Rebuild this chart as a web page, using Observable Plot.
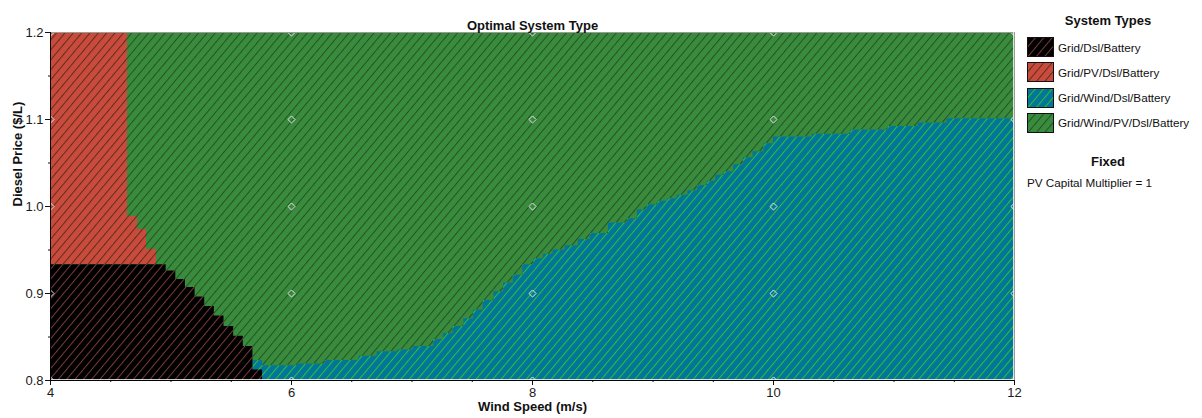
<!DOCTYPE html>
<html>
<head>
<meta charset="utf-8">
<script src="https://cdn.jsdelivr.net/npm/d3@7"></script>
<script src="https://cdn.jsdelivr.net/npm/@observablehq/plot@0.6"></script>
<style>
  body { margin: 0; background: #fff; font-family: "Liberation Sans", Arial, sans-serif; color: #111; }
  #wrap { position: relative; width: 1202px; height: 418px; }
  #wrap > svg.plot { position: absolute; left: 0; top: 0; }
  .lg-head { position: absolute; left: 1027px; width: 162px; text-align: center; font-weight: bold; font-size: 13px; line-height: 15px; }
  .lg-row { position: absolute; left: 1027px; height: 20px; display: flex; align-items: center; font-size: 11.7px; white-space: nowrap; }
  .lg-row svg { display: block; margin-right: 4px; }
  .lg-note { position: absolute; left: 1027px; font-size: 11.7px; line-height: 14px; white-space: nowrap; }
</style>
</head>
<body>
<div id="wrap"></div>
<script>
// Axis extents and ticks
const windDomain = [4, 12];
const priceDomain = [0.8, 1.2];
const windTicks = [4, 6, 8, 10, 12];
const windMinorTicks = [4.5, 5, 5.5, 6.5, 7, 7.5, 8.5, 9, 9.5, 10.5, 11, 11.5];
const priceTicks = [0.8, 0.9, 1.0, 1.1, 1.2];
const priceMinorTicks = [0.85, 0.95, 1.05, 1.15];

// Simulated sensitivity points (diamonds)
const simWind = [4, 6, 8, 10, 12];
const simPrice = [0.8, 0.9, 1.0, 1.1, 1.2];

// System types, in legend order
const systemTypes = ["Grid/Dsl/Battery", "Grid/PV/Dsl/Battery", "Grid/Wind/Dsl/Battery", "Grid/Wind/PV/Dsl/Battery"];
const fillColors = ["#000000", "#c94b3b", "#04759a", "#3a8c3d"];
const hatchColors = ["#7a3c3a", "#5e2c24", "#2bc52c", "#25502a"];

// Grid/Dsl/Battery: upper boundary (diesel price) starting at each wind speed
const dslWind  = [4.00, 4.96, 5.04, 5.12, 5.20, 5.28, 5.36, 5.44, 5.52, 5.60, 5.68, 5.76];
const dslPrice = [0.933, 0.926, 0.916, 0.907, 0.896, 0.885, 0.874, 0.862, 0.851, 0.839, 0.812, 0.812];

// Grid/PV/Dsl/Battery: right boundary (wind speed) of each diesel price band
const pvBandPrice = [0.933, 0.951, 0.973, 0.988, 1.2];
const pvBandWind  = [4.88, 4.80, 4.72, 4.64];

// Grid/Wind/Dsl/Battery: upper boundary (diesel price) starting at each wind speed
const windSysWind = [5.68, 5.76, 6.05, 6.28, 6.56, 6.71, 6.88, 7.01, 7.18, 7.26, 7.34, 7.43, 7.51, 7.59, 7.68, 7.76,
  7.84, 7.92, 8.01, 8.09, 8.17, 8.27, 8.38, 8.48, 8.63, 8.79, 8.87, 8.95, 9.04, 9.12, 9.20, 9.29, 9.37, 9.45, 9.52,
  9.59, 9.67, 9.75, 9.83, 9.92, 10.00, 10.32, 10.64, 10.95, 11.20, 11.44, 12];
const windSysPrice = [0.823, 0.817, 0.819, 0.823, 0.828, 0.833, 0.835, 0.839, 0.847, 0.854, 0.862, 0.871, 0.881, 0.892,
  0.902, 0.912, 0.921, 0.933, 0.940, 0.945, 0.950, 0.955, 0.962, 0.969, 0.981, 0.986, 0.996, 1.002, 1.006, 1.009,
  1.013, 1.018, 1.024, 1.029, 1.036, 1.040, 1.048, 1.056, 1.063, 1.072, 1.080, 1.083, 1.088, 1.092, 1.096, 1.101, 1.101];

// Hatched fills, one pattern per system type
const defsSvg = d3.select("body").append("svg")
  .attr("width", 0).attr("height", 0)
  .style("position", "absolute").style("left", "0").style("top", "0");
const defs = defsSvg.append("defs");
systemTypes.forEach((_, i) => {
  const p = defs.append("pattern")
    .attr("id", `hatch-${i}`)
    .attr("patternUnits", "userSpaceOnUse")
    .attr("width", 6.4).attr("height", 10)
    .attr("patternTransform", "rotate(40)");
  p.append("rect").attr("width", 6.4).attr("height", 10).attr("fill", fillColors[i]);
  p.append("rect").attr("width", 1).attr("height", 10).attr("fill", hatchColors[i]);
});
const hatch = i => `url(#hatch-${i})`;

const dslData = dslWind.map((w, i) => ({wind: w, price: dslPrice[i]}));
const windSysData = windSysWind.map((w, i) => ({wind: w, price: windSysPrice[i]}));
const pvBands = pvBandWind.map((w, i) => ({wind: w, p1: pvBandPrice[i], p2: pvBandPrice[i + 1]}));
const simPoints = simWind.flatMap(w => simPrice.map(p => ({wind: w, price: p})));

const font = '"Liberation Sans", Arial, sans-serif';

const chart = Plot.plot({
  width: 1202,
  height: 418,
  marginLeft: 50,
  marginRight: 188,
  marginTop: 32,
  marginBottom: 38,
  style: {fontFamily: font, fontSize: "13px", color: "#1a1a1a", background: "transparent", overflow: "visible"},
  x: {domain: windDomain, label: null, axis: null},
  y: {domain: priceDomain, label: null, axis: null},
  marks: [
    // Grid/Wind/PV/Dsl/Battery everywhere else
    Plot.rect([{}], {x1: windDomain[0], x2: windDomain[1], y1: priceDomain[0], y2: priceDomain[1], fill: hatch(3)}),
    Plot.areaY(windSysData, {x: "wind", y1: priceDomain[0], y2: "price", curve: "step-after", fill: hatch(2)}),
    Plot.rect(pvBands, {x1: windDomain[0], x2: "wind", y1: "p1", y2: "p2", fill: hatch(1), shapeRendering: "crispEdges"}),
    Plot.rect([{}], {x1: windDomain[0], x2: pvBandWind[3], y1: pvBandPrice[0], y2: priceDomain[1], fill: hatch(1), shapeRendering: "crispEdges"}),
    Plot.areaY(dslData, {x: "wind", y1: priceDomain[0], y2: "price", curve: "step-after", fill: hatch(0)}),
    Plot.dot(simPoints, {x: "wind", y: "price", symbol: "diamond2", r: 3.2, stroke: "#e6e6e6", strokeWidth: 1, fill: "none", clip: true}),
    // frame
    Plot.ruleY([priceDomain[1]], {stroke: "#9a9a9a"}),
    Plot.ruleX([windDomain[1]], {stroke: "#9a9a9a"}),
    Plot.ruleX([windDomain[1]], {stroke: "#ffffff", dx: -1, strokeOpacity: 0.8}),
    Plot.ruleY([priceDomain[0]], {stroke: "#ffffff", dy: -1, strokeOpacity: 0.8}),
    // axes
    Plot.axisX({ticks: windTicks, tickSize: 5, tickPadding: 2, fontSize: 13, label: null, tickFormat: d => String(d), stroke: "#111"}),
    Plot.axisX({ticks: windMinorTicks, tickSize: 2, label: null, tickFormat: () => "", stroke: "#111"}),
    Plot.axisY({ticks: priceTicks, tickSize: 5, tickPadding: 2, fontSize: 13, label: null, tickFormat: d3.format(".1f"), stroke: "#111"}),
    Plot.axisY({ticks: priceMinorTicks, tickSize: 2, label: null, tickFormat: () => "", stroke: "#111"}),
    Plot.ruleX([windDomain[0]], {stroke: "#000"}),
    Plot.ruleY([priceDomain[0]], {stroke: "#000"}),
    // titles
    Plot.text(["Optimal System Type"], {frameAnchor: "top", dy: -12, fontWeight: "bold", fontSize: 13, fill: "#111"}),
    Plot.text(["Wind Speed (m/s)"], {frameAnchor: "bottom", dy: 30, fontWeight: "bold", fontSize: 13, fill: "#111"}),
    Plot.text(["Diesel Price ($/L)"], {frameAnchor: "left", dx: -33, rotate: -90, fontWeight: "bold", fontSize: 13, fill: "#111"})
  ]
});
chart.classList.add("plot");
const wrap = document.getElementById("wrap");
wrap.appendChild(chart);

// Legend
const head = document.createElement("div");
head.className = "lg-head";
head.style.top = "13px";
head.textContent = "System Types";
wrap.appendChild(head);

systemTypes.forEach((name, i) => {
  const row = document.createElement("div");
  row.className = "lg-row";
  row.style.top = (37 + i * 25.3) + "px";
  row.innerHTML = `<svg width="27" height="20"><rect x="0.5" y="0.5" width="26" height="19" fill="${hatch(i)}" stroke="#111"/></svg><span>${name}</span>`;
  wrap.appendChild(row);
});

const fixedHead = document.createElement("div");
fixedHead.className = "lg-head";
fixedHead.style.top = "154px";
fixedHead.textContent = "Fixed";
wrap.appendChild(fixedHead);

const note = document.createElement("div");
note.className = "lg-note";
note.style.top = "176px";
note.textContent = "PV Capital Multiplier = 1";
wrap.appendChild(note);
</script>
</body>
</html>
